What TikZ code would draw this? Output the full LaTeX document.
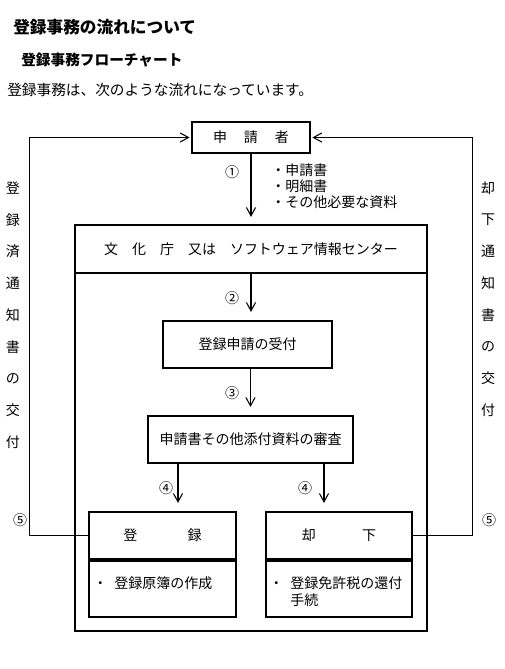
\documentclass[tikz,border=0pt]{standalone}
\usepackage{fontspec}
\setmainfont{Noto Sans CJK JP}
\usetikzlibrary{positioning,arrows.meta,calc}

\begin{document}
\begin{tikzpicture}[x=0.75pt,y=-0.75pt,
    every node/.style={font=\fontsize{10.5}{12.75}\selectfont,inner sep=0pt},
    stepbox/.style={draw,line width=1.6pt},
    size/.style 2 args={minimum width=#1*0.75pt,minimum height=#2*0.75pt},
    flow/.style={-{Straight Barb[length=2.2mm,width=2.4mm]},line width=0.8pt,shorten >=1pt},
    num/.style={font=\fontsize{10.5}{12}\selectfont}]
  \useasboundingbox (0,0) rectangle (505,669);
  % titles
  \node[anchor=west,font=\fontsize{12.5}{15}\selectfont\bfseries] (title) at (13,27) {登録事務の流れについて};
  \node[anchor=west,font=\fontsize{11}{13}\selectfont\bfseries] (subtitle) at (21,60) {登録事務フローチャート};
  \node[anchor=west,font=\fontsize{11}{13}\selectfont] (lead) at (7,90) {登録事務は、次のような流れになっています。};
  % boxes
  \node[stepbox,size={118}{31}] (applicant) at (251,137.5) {申\hspace{1.2em}請\hspace{1.2em}者};
  \node[stepbox,size={352}{48}] (agency) at (251,249) {文　化　庁　又は　ソフトウェア情報センター};
  \node[stepbox,size={352}{358}] (office) at (251,452) {};
  \node[stepbox,size={169}{47}] (receipt) at (247.5,344.5) {登録申請の受付};
  \node[stepbox,size={205}{47}] (review) at (250.5,439.5) {申請書その他添付資料の審査};
  \node[stepbox,size={147}{47}] (reg) at (162.5,535.5) {登\hspace{3.6em}録};
  \node[stepbox,size={147}{56},below=0pt of reg] (regbody) {};
  \node[stepbox,size={146}{47}] (rej) at (339,535.5) {却\hspace{3.3em}下};
  \node[stepbox,size={146}{56},below=0pt of rej] (rejbody) {};
  \node[anchor=west] (regtext) at (93,583) {・\hspace{0.5em}登録原簿の作成};
  \node[anchor=north west] (rejtext) at (269,576) {\begin{tabular}{@{}l@{\hspace{0.5em}}l@{}}・&登録免許税の還付\\&手続\end{tabular}};
  % documents
  \node[anchor=north west,align=left,font=\fontsize{10.5}{12}\selectfont] (docs) at (271,163) {・申請書\\・明細書\\・その他必要な資料};
  % step numbers
  \node[num] (n1) at (232,172) {①};
  \node[num] (n2) at (232,298) {②};
  \node[num] (n3) at (232,393) {③};
  \node[num] (n4a) at (166,488) {④};
  \node[num] (n4b) at (305,488) {④};
  \node[num] (n5a) at (20,520) {⑤};
  \node[num] (n5b) at (489,520) {⑤};
  % side labels
  \foreach \c [count=\i from 0] in {登,録,済,通,知,書,の,交,付}
    \node (left\i) at (13,188+31.75*\i) {\c};
  \foreach \c [count=\i from 0] in {却,下,通,知,書,の,交,付}
    \node (right\i) at (488,188+31.75*\i) {\c};
  % arrows
  \draw[flow,shorten >=5.25pt] (applicant.south) -- (agency.north);
  \draw[flow,shorten >=6pt] (agency.south) -- (agency.south |- receipt.north);
  \draw[flow,shorten >=6pt] (receipt.south -| review.north) -- (review.north);
  \draw[flow,shorten >=6pt] ($(review.south)+(-72.5,0)$) -- ($(reg.north)+(15.5,0)$);
  \draw[flow,shorten >=6pt] ($(review.south)+(73.5,0)$) -- ($(rej.north)+(-15,0)$);
  \draw[flow] (reg.west) -- ++(-58,0) |- (applicant.west);
  \draw[flow] (rej.east) -- ++(59,0) |- (applicant.east);
\end{tikzpicture}
\end{document}
